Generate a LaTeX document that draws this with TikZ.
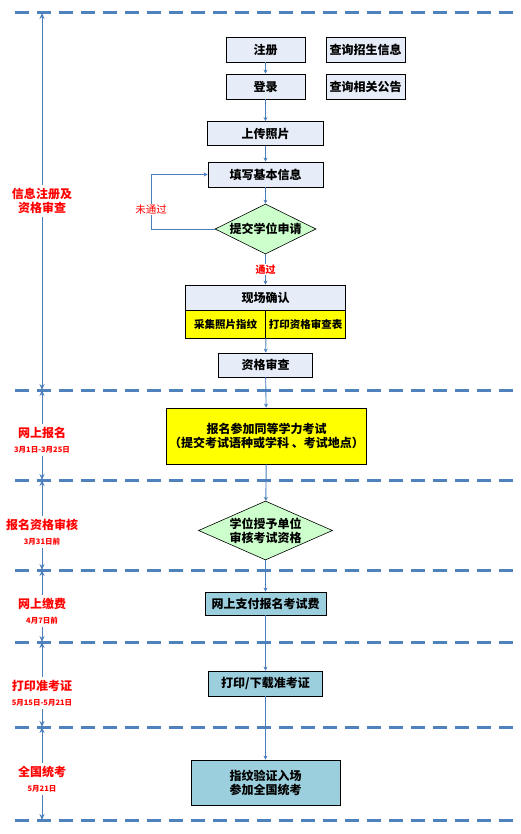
\documentclass[tikz,border=0pt]{standalone}
\usepackage{fontspec}
\setmainfont{Noto Sans CJK SC}
\usetikzlibrary{shapes.geometric,arrows.meta}

\begin{document}
\begin{tikzpicture}[x=1pt, y=-1pt,
    every node/.style={font=\fontsize{12}{14}\selectfont\bfseries},
    box/.style={draw=black, line width=0.8pt, fill=boxColour, inner sep=0pt, minimum height=25pt},
    choice/.style={diamond, draw=black, line width=0.6pt, fill=choiceColour, inner sep=0pt},
    flow/.style={draw=arrowColour, line width=0.9pt, -{Stealth[length=4pt,width=4pt]}},
    span/.style={draw=arrowColour, line width=0.9pt, -{Stealth[length=6pt,width=5pt]}},
    stage/.style={text=red, align=center, inner sep=3pt},
    sep/.style={draw=sepColour, line width=3pt, dash pattern=on 14pt off 8pt}]
    % Define colours
    \definecolor{boxColour}{HTML}{E6EDF8}
    \definecolor{choiceColour}{HTML}{CCFFCC}
    \definecolor{siteColour}{HTML}{FFFF00}
    \definecolor{payColour}{HTML}{9BCFDD}
    \definecolor{arrowColour}{HTML}{4A7EBB}
    \definecolor{sepColour}{HTML}{4F81BD}

    % Define column and small fonts
    \def\colX{265.5}
    \def\datefont{\fontsize{7.5}{8}\selectfont}

    \useasboundingbox (0,0) rectangle (521,834);

    % Draw stage separators
    \foreach \y [count=\i] in {13,390,480,570,642,727,820} {
        \draw[sep] (15,\y) -- (521,\y);
        \coordinate (d\i) at (42,\y);
    }

    % Registration and qualification
    \node[box, minimum width=79pt] (reg) at (\colX,49.5) {注册};
    \node[box, minimum width=79pt] (qinfo) at (365.5,49.5) {查询招生信息};
    \node[box, minimum width=79pt] (login) at (\colX,86.5) {登录};
    \node[box, minimum width=79pt] (qnotice) at (365.5,86.5) {查询相关公告};
    \node[box, minimum width=116pt, minimum height=24pt] (photo) at (\colX,133.5) {上传照片};
    \node[box, minimum width=115pt] (fill) at (\colX,174.5) {填写基本信息};
    \node[choice, aspect=2, minimum width=101pt, minimum height=50pt] (submit) at (\colX,229) {提交学位申请};
    \coordinate (bend) at (151,229);

    \node[box, minimum width=160pt] (onsite) at (\colX,297.5) {现场确认};
    \node[box, fill=siteColour, minimum width=80pt, minimum height=28pt,
        font=\fontsize{10.5}{12}\selectfont\bfseries] (collect) at (\colX-40,324) {采集照片指纹};
    \node[box, fill=siteColour, minimum width=80pt, minimum height=28pt,
        font=\fontsize{10.5}{12}\selectfont\bfseries] (printform) at (\colX+40,324) {打印资格审查表};
    \node[box, minimum width=94pt, minimum height=24pt] (review) at (\colX,365) {资格审查};

    % Later stages
    \node[box, fill=siteColour, minimum width=200pt, minimum height=56pt, align=center] (apply) at (\colX+1,436)
        {报名参加同等学力考试\\（提交考试语种或学科 、考试地点）};
    \node[choice, aspect=2.3, minimum width=134pt, minimum height=59pt, align=center] (audit) at (\colX,530.5)
        {学位授予单位\\审核考试资格};
    \node[box, fill=payColour, minimum width=121pt, minimum height=23pt] (pay) at (\colX,603.5) {网上支付报名考试费};
    \node[box, fill=payColour, minimum width=114pt] (ticket) at (\colX,683.5) {打印/下载准考证};
    \node[box, fill=payColour, minimum width=149pt, minimum height=45pt, align=center] (exam) at (\colX,782.5)
        {指纹验证入场\\参加全国统考};

    % Draw flow arrows
    \draw[flow] (reg) -- (login);
    \draw[flow] (login) -- (photo);
    \draw[flow] (photo) -- (fill);
    \draw[flow] (fill) -- (submit);
    \draw[flow] (submit.west) -- (bend) |- (fill.west)
        node[pos=0.18, fill=white, text=red, inner sep=1pt, font=\fontsize{10.5}{12}\selectfont] {未通过};
    \draw[flow] (submit.south) -- (onsite.north)
        node[midway, fill=white, text=red, inner sep=1pt, font=\fontsize{10}{12}\selectfont\bfseries] {通过};
    \draw[flow] (collect.south east) -- (review);
    \draw[flow] (review) -- (apply);
    \draw[flow] (apply) -- (audit);
    \draw[flow] (audit) -- (pay);
    \draw[flow] (pay) -- (ticket);
    \draw[flow] (ticket) -- (exam);

    % Label the stages
    \node[stage] (stage1) at (42,201) {信息注册及\\资格审查};
    \node[stage] (stage2) at (42,440) {网上报名\\[1pt]{\datefont 3月1日-3月25日}};
    \node[stage] (stage3) at (42,532) {报名资格审核\\[1pt]{\datefont 3月31日前}};
    \node[stage] (stage4) at (42,611) {网上缴费\\[1pt]{\datefont 4月7日前}};
    \node[stage] (stage5) at (42,693) {打印准考证\\[1pt]{\datefont 5月15日-5月21日}};
    \node[stage] (stage6) at (42,779) {全国统考\\[1pt]{\datefont 5月21日}};

    % Draw stage spans
    \foreach \i [evaluate=\i as \j using int(\i+1)] in {1,...,6} {
        \draw[span] (stage\i) -- (d\i);
        \draw[span] (stage\i) -- (d\j);
    }

\end{tikzpicture}
\end{document}
